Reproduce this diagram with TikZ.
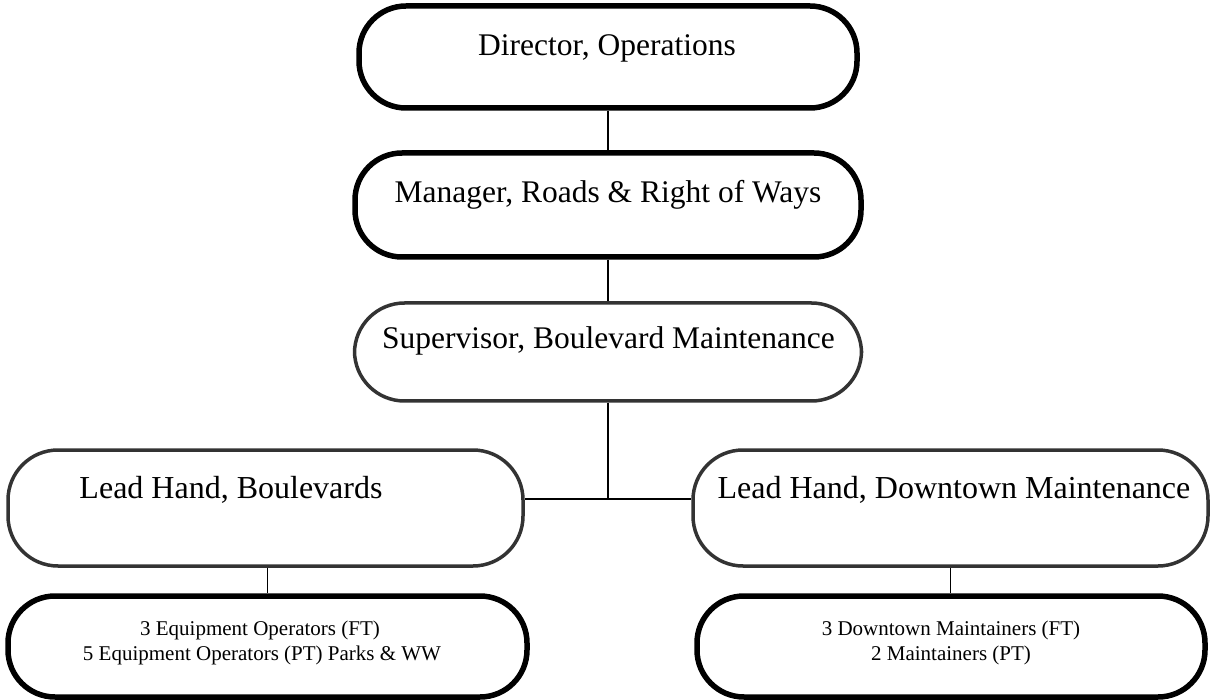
\documentclass[tikz,border=0pt]{standalone}
\usepackage{fontspec}
\setmainfont{Liberation Serif}
\begin{document}
\begin{tikzpicture}[x=1pt,y=-1pt,
  thickbox/.style={draw=black, line width=5.5pt, rounded corners=47pt, inner sep=0pt},
  thinbox/.style={draw=black!80, line width=3.5pt, rounded corners=50pt, inner sep=0pt},
  bigtxt/.style={anchor=base, inner sep=0pt, font=\fontsize{31.5}{36}\selectfont},
  leadtxt/.style={anchor=base, inner sep=0pt, font=\fontsize{32}{36}\selectfont},
  smalltxt/.style={anchor=base, inner sep=0pt, font=\fontsize{21}{25}\selectfont},
  conn/.style={draw=black, line width=1.6pt}]
\useasboundingbox (0,0) rectangle (1210,700);
% boxes
\node[thickbox, minimum width=498pt, minimum height=102pt] (dir) at (608,57) {};
\node[thickbox, minimum width=506pt, minimum height=104pt] (man) at (608,205) {};
\node[thinbox, minimum width=507pt, minimum height=98pt] (sup) at (608,352) {};
\node[thinbox, minimum width=515pt, minimum height=116pt] (leadl) at (265.5,508) {};
\node[thinbox, minimum width=515pt, minimum height=116pt] (leadr) at (950.5,508) {};
\node[thickbox, minimum width=519pt, minimum height=101pt] (botl) at (267.5,646.5) {};
\node[thickbox, minimum width=508pt, minimum height=101pt] (botr) at (951,646.5) {};
% texts
\node[bigtxt] (dirt) at (607,56) {Director, Operations};
\node[bigtxt] (mant) at (608,203) {Manager, Roads \& Right of Ways};
\node[bigtxt] (supt) at (608.5,349) {Supervisor, Boulevard Maintenance};
\node[leadtxt] (leadlt) at (231,498) {Lead Hand, Boulevards};
\node[leadtxt] (leadrt) at (954,498) {Lead Hand, Downtown Maintenance};
\node[smalltxt] (botlt1) at (260,635) {3 Equipment Operators (FT)};
\node[smalltxt] (botlt2) at (262,660) {5 Equipment Operators (PT) Parks \& WW};
\node[smalltxt] (botrt1) at (951,635) {3 Downtown Maintainers (FT)};
\node[smalltxt] (botrt2) at (951,660) {2 Maintainers (PT)};
% connectors
\coordinate (junc) at (608,499);
\draw[conn] (dir.south) -- (man.north);
\draw[conn] (man.south) -- (sup.north);
\draw[conn] (sup.south) -- (junc);
\draw[conn] (leadl.east |- junc) -- (leadr.west |- junc);
\draw[conn] (botl.north |- leadl.south) -- (botl.north);
\draw[conn] (leadr.south) -- (leadr.south |- botr.north);
\end{tikzpicture}
\end{document}
